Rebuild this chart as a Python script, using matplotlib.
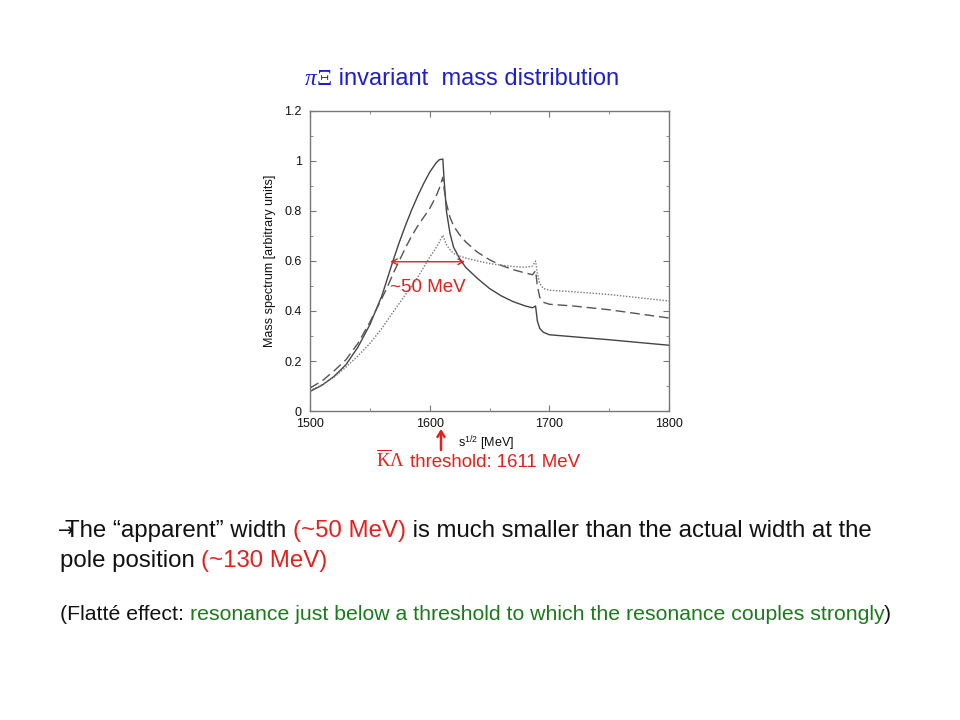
import matplotlib
matplotlib.use("Agg")
import matplotlib.pyplot as plt
from matplotlib.ticker import MultipleLocator

plt.rcParams["font.family"] = ["Liberation Sans", "DejaVu Sans"]
plt.rcParams["mathtext.fontset"] = "custom"
plt.rcParams["mathtext.rm"] = "Liberation Serif"
plt.rcParams["mathtext.sf"] = "Liberation Sans"
plt.rcParams["mathtext.it"] = "Liberation Serif:italic"

INK = "#111111"
AXIS_GREY = "#777777"
RED = "#E3201B"
BLUE = "#1E1ECC"
GREEN = "#1B7A1B"

# sqrt(s) in MeV and the three spectra
energy = [1500, 1510, 1520, 1530, 1540, 1550, 1560, 1565, 1570, 1575, 1580, 1585,
          1590, 1595, 1600, 1605, 1608, 1611, 1612, 1614, 1617, 1620, 1625, 1630,
          1640, 1650, 1660, 1670, 1680, 1686, 1688.5, 1690, 1692, 1695, 1700,
          1720, 1750, 1800]
solid = [0.078, 0.103, 0.138, 0.185, 0.255, 0.345, 0.46, 0.535, 0.61, 0.68, 0.745, 0.805,
         0.86, 0.91, 0.955, 0.99, 1.005, 1.008, 0.93, 0.80, 0.71, 0.655, 0.61, 0.575,
         0.53, 0.49, 0.46, 0.437, 0.42, 0.413, 0.42, 0.36, 0.33, 0.315, 0.305,
         0.297, 0.285, 0.263]
dashed = [0.092, 0.12, 0.16, 0.205, 0.27, 0.355, 0.45, 0.50, 0.555, 0.605, 0.655, 0.70,
          0.74, 0.775, 0.81, 0.855, 0.89, 0.935, 0.89, 0.83, 0.775, 0.74, 0.705, 0.677,
          0.635, 0.605, 0.582, 0.565, 0.552, 0.545, 0.562, 0.50, 0.455, 0.435, 0.427,
          0.42, 0.405, 0.372]
dotted = [0.082, 0.105, 0.135, 0.175, 0.22, 0.27, 0.33, 0.365, 0.40, 0.433, 0.467, 0.50,
          0.535, 0.575, 0.615, 0.65, 0.675, 0.703, 0.69, 0.665, 0.645, 0.63, 0.62, 0.612,
          0.60, 0.59, 0.583, 0.578, 0.575, 0.58, 0.60, 0.55, 0.51, 0.49, 0.483,
          0.477, 0.466, 0.44]

width_left, width_right, width_level = 1567, 1629.5, 0.597


def px(x, y):
    # slide pixel (top-left origin) -> figure fraction
    return x / 960, 1 - y / 720


def draw_runs(figure, x, y, runs, renderer):
    fx, fy = px(x, y)
    for text, color, extra in runs:
        item = figure.text(fx, fy, text, color=color, va="baseline", **extra)
        box = item.get_window_extent(renderer)
        fx += box.width / figure.bbox.width


figure = plt.figure(figsize=(9.6, 7.2), dpi=100)
figure.patch.set_facecolor("white")
axes = figure.add_axes([310 / 960, 1 - 411 / 720, 359 / 960, 300 / 720])

axes.plot(energy, solid, color="#444444", linewidth=1.0)
axes.plot(energy, dashed, color="#555555", linewidth=1.0, dashes=(7, 3.5))
axes.plot(energy, dotted, color="#777777", linewidth=1.0, linestyle=(0, (1, 1.2)))

axes.set_xlim(1500, 1800)
axes.set_ylim(0, 1.2)
axes.set_xticks([1500, 1600, 1700, 1800])
axes.set_yticks([0, 0.2, 0.4, 0.6, 0.8, 1.0, 1.2])
axes.set_yticklabels(["0", "0.2", "0.4", "0.6", "0.8", "1", "1.2"])
axes.xaxis.set_minor_locator(MultipleLocator(50))
axes.yaxis.set_minor_locator(MultipleLocator(0.1))
axes.tick_params(which="both", direction="in", top=True, right=True,
                 color=AXIS_GREY, labelsize=9, labelcolor=INK)
axes.tick_params(which="major", length=4)
axes.tick_params(which="minor", length=2.5)
axes.tick_params(axis="y", pad=6)
axes.tick_params(axis="x", pad=5)
for spine in axes.spines.values():
    spine.set_color(AXIS_GREY)
    spine.set_linewidth(1.0)
axes.set_ylabel("Mass spectrum [arbitrary units]", fontsize=9, color=INK)
axes.yaxis.set_label_coords(-0.095, 0.5)
axes.set_xlabel(r"s$^{\mathsf{1/2}}$ [MeV]", fontsize=9, color=INK)
axes.xaxis.set_label_coords(0.49, -0.075)

axes.annotate("", xy=(width_left, width_level), xytext=(width_right, width_level),
              arrowprops={"arrowstyle": "<->", "color": RED, "linewidth": 1.0,
                          "shrinkA": 0, "shrinkB": 0})
axes.text(width_left - 0.5, 0.476, "~50 MeV", color=RED, fontsize=13.5, va="baseline")

axes.annotate("", xy=(441, 720 - 429), xytext=(441, 720 - 450),
              xycoords="figure pixels", textcoords="figure pixels",
              arrowprops={"arrowstyle": "->,head_length=0.4,head_width=0.25",
                          "color": RED, "linewidth": 1.8, "shrinkA": 0, "shrinkB": 0})

figure.canvas.draw()
renderer = figure.canvas.get_renderer()

draw_runs(figure, 305, 85, [
    ("π", BLUE, {"fontsize": 17, "family": "Liberation Serif", "style": "italic"}),
    ("Ξ", BLUE, {"fontsize": 17, "family": "Liberation Serif"}),
    (" invariant  mass distribution", BLUE, {"fontsize": 17}),
], renderer)

draw_runs(figure, 376, 467, [
    (r"$\overline{\mathrm{K}}\Lambda$", RED, {"fontsize": 13.4}),
    (" threshold: 1611 MeV", RED, {"fontsize": 13.4}),
], renderer)

draw_runs(figure, 58, 537, [
    ("→", INK, {"fontsize": 13.5, "family": "DejaVu Sans"}),
], renderer)
draw_runs(figure, 65, 537, [
    ("The \u201capparent\u201d width ", INK, {"fontsize": 17.3}),
    ("(~50 MeV)", RED, {"fontsize": 17.3}),
    (" is much smaller than the actual width at the", INK, {"fontsize": 17.3}),
], renderer)
draw_runs(figure, 60, 567, [
    ("pole position ", INK, {"fontsize": 17.3}),
    ("(~130 MeV)", RED, {"fontsize": 17.3}),
], renderer)
draw_runs(figure, 60, 620, [
    ("(Flatté effect: ", INK, {"fontsize": 15.3}),
    ("resonance just below a threshold to which the resonance couples strongly", GREEN,
     {"fontsize": 15.3}),
    (")", INK, {"fontsize": 15.3}),
], renderer)

figure.savefig("out.png", dpi=100, facecolor="white")
